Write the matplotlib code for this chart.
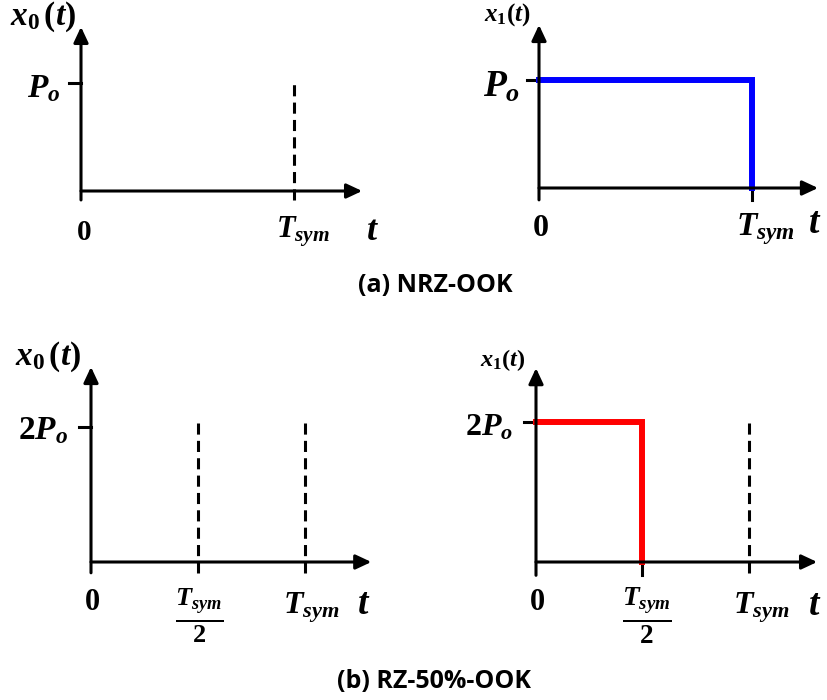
import matplotlib
matplotlib.use("Agg")
import matplotlib.pyplot as plt

plt.rcParams['mathtext.fontset'] = 'custom'
plt.rcParams['mathtext.rm'] = 'Liberation Serif:bold'
plt.rcParams['mathtext.it'] = 'Liberation Serif:bold:italic'
plt.rcParams['mathtext.bf'] = 'Liberation Serif:bold'
plt.rcParams['lines.scale_dashes'] = False

# signal data, time in units of T_sym, amplitude in units of P_o
nrz_t = [0, 1, 1]
nrz_x1 = [1, 1, 0]
rz_t = [0, 0.5, 0.5]
rz_x1 = [2, 2, 0]
nrz_level = 1
rz_level = 2
nrz_marks = [1]          # dashed / tick positions
rz_marks = [0.5, 1]

W, H = 828, 700
fig = plt.figure(figsize=(W / 100, H / 100), dpi=100)

def make_ax(x0, y0, sx, sy, xlim, ylim):
    # axes placed so that data (0,0) lands on pixel (x0, y0)
    left = x0 + xlim[0] * sx
    width = (xlim[1] - xlim[0]) * sx
    top = y0 - ylim[1] * sy
    height = (ylim[1] - ylim[0]) * sy
    ax = fig.add_axes([left / W, 1 - (top + height) / H, width / W, height / H])
    ax.set_xlim(xlim)
    ax.set_ylim(ylim)
    ax.axis('off')
    return ax

def axes_arrows(ax, xtip, ytip, ybot):
    ap = dict(arrowstyle='-|>,head_length=0.47,head_width=0.22', mutation_scale=20,
              lw=2.2, color='black', shrinkA=0, shrinkB=0)
    ax.annotate('', xy=(xtip, 0), xytext=(0, 0), arrowprops=ap)
    ax.annotate('', xy=(0, ytip), xytext=(0, ybot), arrowprops=ap)

def label(ax, s, xy, off, size, ha='center'):
    ax.annotate(s, xy=xy, xytext=off, textcoords='offset pixels', ha=ha, va='center',
                fontsize=size, annotation_clip=False)

def dashed(ax, x, y0, y1):
    ax.plot([x, x], [y0, y1], color='black', lw=2.2, dashes=(8, 4.5), solid_capstyle='butt')

# (a) left
ax = make_ax(81, 191, 213, 108, (-0.5, 1.45), (-0.4, 1.6))
axes_arrows(ax, 1.32, 1.52, -0.083)
ax.plot([-12 / 213, 0], [nrz_level, nrz_level], color='black', lw=2.2)
for m in nrz_marks:
    dashed(ax, m, -0.083, 1.01)
label(ax, r'$x_0\,(t)$', (0, 1.52), (-38, 10), 24)
label(ax, r'$P_o$', (0, nrz_level), (-21, -5), 24, ha='right')
label(ax, r'$0$', (0, 0), (3, -41), 21)
label(ax, r'$T_{sym}$', (1, 0), (9, -41), 22)
label(ax, r'$t$', (1.32, 0), (10, -39), 26)

# (a) right
ax = make_ax(539, 188, 213, 108, (-0.5, 1.45), (-0.4, 1.6))
axes_arrows(ax, 1.31, 1.51, -0.11)
ax.plot([-12 / 213, 0], [nrz_level, nrz_level], color='black', lw=2.2)
for m in nrz_marks:
    ax.plot([m, m], [-0.11, 0], color='black', lw=2.2)
ax.plot(nrz_t, nrz_x1, color='#0000ff', lw=4.3, solid_joinstyle='miter')
label(ax, r'$x_1(t)$', (0, 1.51), (-32, 10), 18)
label(ax, r'$P_o$', (0, nrz_level), (-19, -7), 27, ha='right')
label(ax, r'$0$', (0, 0), (1, -39), 23)
label(ax, r'$T_{sym}$', (1, 0), (13, -41), 24)
label(ax, r'$t$', (1.31, 0), (-3, -35), 27)

# (b) left
ax = make_ax(91, 562, 214, 67.5, (-0.5, 1.45), (-0.8, 3.0))
axes_arrows(ax, 1.31, 2.89, -0.16)
ax.plot([-12 / 214, 0], [rz_level, rz_level], color='black', lw=2.2)
for m in rz_marks:
    dashed(ax, m, -0.16, 2.15)
label(ax, r'$x_0\,(t)$', (0, 2.89), (-43, 10), 24)
label(ax, r'$2P_o$', (0, rz_level), (-23, -3), 24, ha='right')
label(ax, r'$0$', (0, 0), (1, -39), 22)
label(ax, r'$\frac{T_{sym}}{2}$', (0.5, 0), (1, -54), 27)
label(ax, r'$T_{sym}$', (1, 0), (6, -46), 23)
label(ax, r'$t$', (1.31, 0), (-8, -42), 27)

# (b) right
ax = make_ax(536, 562, 213, 70, (-0.5, 1.45), (-0.8, 3.0))
axes_arrows(ax, 1.32, 2.77, -0.19)
ax.plot([-12 / 213, 0], [rz_level, rz_level], color='black', lw=2.2)
ax.plot([0.5, 0.5], [-0.19, 0], color='black', lw=2.2)
dashed(ax, 1, -0.16, 1.99)
ax.plot(rz_t, rz_x1, color='#ff0000', lw=4.3, solid_joinstyle='miter')
label(ax, r'$x_1(t)$', (0, 2.77), (-33, 8), 17.5)
label(ax, r'$2P_o$', (0, rz_level), (-23, -5), 23, ha='right')
label(ax, r'$0$', (0, 0), (1, -39), 22)
label(ax, r'$\frac{T_{sym}}{2}$', (0.5, 0), (4, -54), 28)
label(ax, r'$T_{sym}$', (1, 0), (12, -46), 23)
label(ax, r'$t$', (1.32, 0), (-2, -43), 27)

fig.text(435 / W, 1 - 285 / H, '(a) NRZ-OOK', ha='center', va='center',
         fontsize=18, fontweight='bold', family='Open Sans')
fig.text(434 / W, 1 - 682 / H, '(b) RZ-50%-OOK', ha='center', va='center',
         fontsize=18, fontweight='bold', family='Open Sans')

fig.savefig('out.png', dpi=100)
